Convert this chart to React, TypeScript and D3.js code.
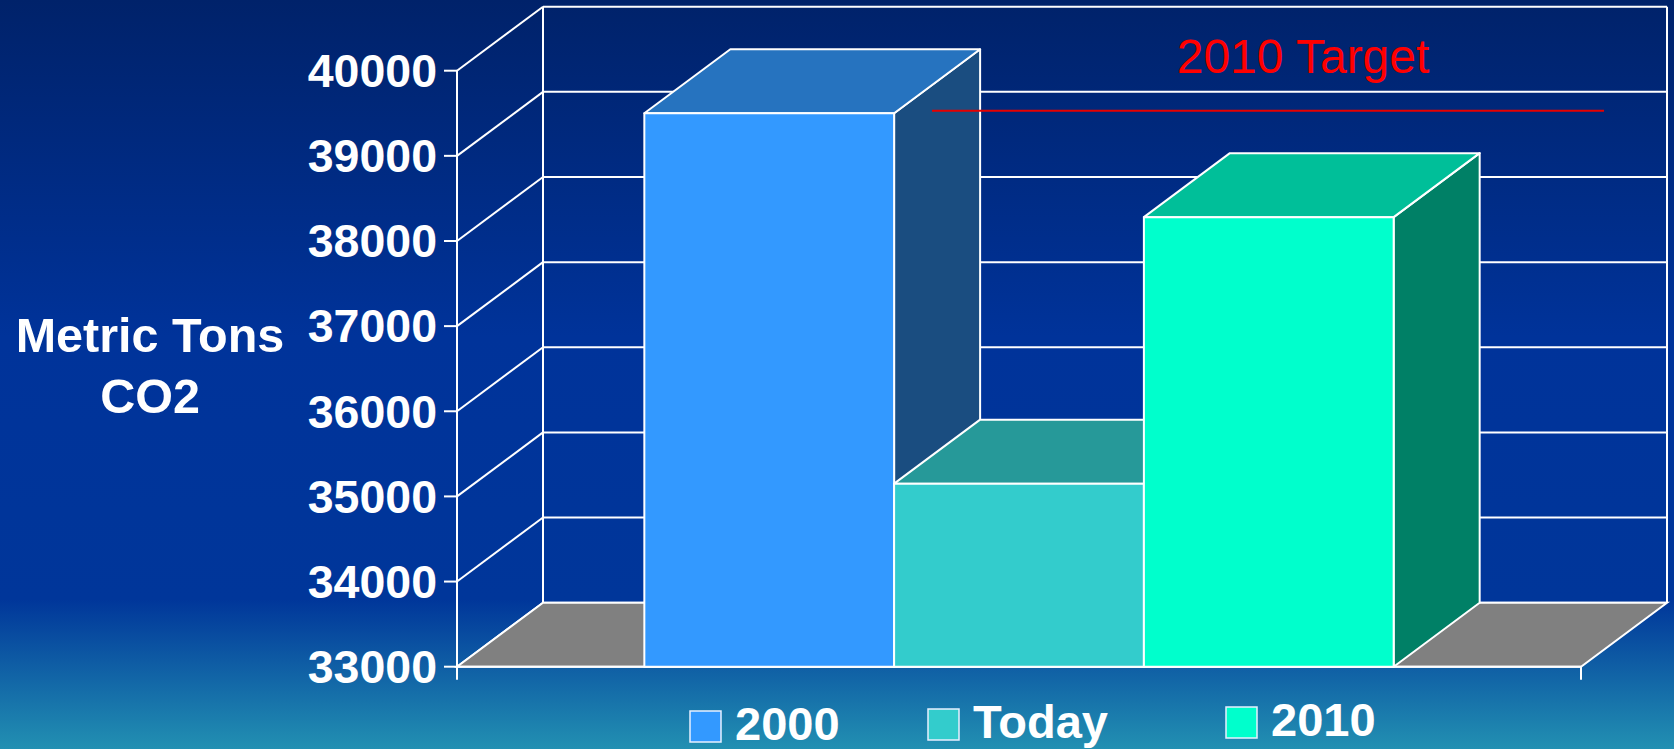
import React from "react";
import * as d3 from "d3";

// ---- data ----
const series = ["2000", "Today", "2010"];
const seriesValues = [39500, 35150, 38280];
const seriesColors = ["#3399FF", "#33CCCC", "#00FFCC"];
const yTicks = [33000, 34000, 35000, 36000, 37000, 38000, 39000, 40000];
const yTitle = ["Metric Tons", "CO2"];
const targetValue = 39530;
const targetLabel = "2010 Target";

const W = 1674;
const H = 749;
const FONT = "'Liberation Sans', Arial, Helvetica, sans-serif";

function shade(c: string, k: number) {
  const r = d3.rgb(c);
  return d3.rgb(r.r * k, r.g * k, r.b * k).formatHex();
}

export default function App() {
  const left = 457;
  const right = 1581;
  const bottom = 666.7;
  const top = 70.7;
  const dx = 86;
  const dy = -64;

  const y = d3.scaleLinear().domain([33000, 40000]).range([bottom, top]);
  const outer = d3.scaleBand<string>().domain(["group"]).range([left, right]).paddingInner(0.2).paddingOuter(0.2);
  const x = d3
    .scaleBand<string>()
    .domain(series)
    .range([outer("group") as number, (outer("group") as number) + outer.bandwidth()])
    .padding(0);
  const bw = x.bandwidth();
  const base = y(33000);

  const pts = (a: [number, number][]) => a.map((p) => p.join(",")).join(" ");

  const legendX = [690, 928, 1226];
  const legendLift = [0, 2, 4];

  // target line in front-plane coordinates
  const tY = y(targetValue);
  const tX0 = left + 0.4226 * (right - left);
  const tX1 = left + 1.0205 * (right - left);

  return (
    <svg width={W} height={H} style={{ position: "absolute", left: 0, top: 0 }} fontFamily={FONT}>
      <defs>
        <linearGradient id="bg" x1="0" y1="0" x2="0" y2="1">
          <stop offset="0" stopColor="#00226a" />
          <stop offset="0.45" stopColor="#00339a" />
          <stop offset="0.8" stopColor="#00369a" />
          <stop offset="1" stopColor="#2290b2" />
        </linearGradient>
      </defs>
      <rect x={0} y={0} width={W} height={H} fill="url(#bg)" />

      {/* back wall gridlines */}
      {yTicks.map((t) => (
        <line key={"g" + t} x1={left + dx} x2={right + dx} y1={y(t) + dy} y2={y(t) + dy} stroke="#fff" strokeWidth={2} />
      ))}
      {/* side wall diagonals */}
      {yTicks.map((t) => (
        <line key={"s" + t} x1={left} x2={left + dx} y1={y(t)} y2={y(t) + dy} stroke="#fff" strokeWidth={2} />
      ))}
      {/* back wall verticals */}
      <line x1={left + dx} x2={left + dx} y1={y(40000) + dy} y2={base + dy} stroke="#fff" strokeWidth={2} />
      <line x1={right + dx} x2={right + dx} y1={y(40000) + dy} y2={base + dy} stroke="#fff" strokeWidth={2} />

      {/* floor */}
      <polygon
        points={pts([
          [left, base],
          [right, base],
          [right + dx, base + dy],
          [left + dx, base + dy],
        ])}
        fill="#808080"
        stroke="#fff"
        strokeWidth={2}
      />

      {/* front axis */}
      <line x1={left} x2={left} y1={top} y2={base + 13} stroke="#fff" strokeWidth={2} />
      <line x1={left} x2={right} y1={base} y2={base} stroke="#fff" strokeWidth={2} />
      <line x1={right} x2={right} y1={base} y2={base + 13} stroke="#fff" strokeWidth={2} />
      {yTicks.map((t) => (
        <g key={"t" + t}>
          <line x1={left - 13} x2={left} y1={y(t)} y2={y(t)} stroke="#fff" strokeWidth={2} />
          <text x={left - 20} y={y(t)} dy="0.35em" textAnchor="end" fill="#fff" fontSize={46.5} fontWeight={700}>
            {t}
          </text>
        </g>
      ))}

      {/* bars */}
      {series.map((s, i) => {
        const x0 = x(s) as number;
        const x1 = x0 + bw;
        const yt = y(seriesValues[i]);
        const c = seriesColors[i];
        return (
          <g key={s} stroke="#fff" strokeWidth={2} strokeLinejoin="round">
            <polygon
              points={pts([
                [x1, yt],
                [x1 + dx, yt + dy],
                [x1 + dx, base + dy],
                [x1, base],
              ])}
              fill={shade(c, 0.5)}
            />
            <polygon
              points={pts([
                [x0, yt],
                [x1, yt],
                [x1 + dx, yt + dy],
                [x0 + dx, yt + dy],
              ])}
              fill={shade(c, 0.75)}
            />
            <rect x={x0} y={yt} width={bw} height={base - yt} fill={c} />
          </g>
        );
      })}

      {/* target annotation */}
      <line x1={tX0} x2={tX1} y1={tY} y2={tY} stroke="#e60000" strokeWidth={2} />
      <text x={1176.7} y={72.7} fill="#ff0000" fontSize={48}>
        {targetLabel}
      </text>

      {/* y title */}
      {yTitle.map((l, i) => (
        <text key={l} x={150} y={352.3 + i * 61} textAnchor="middle" fill="#fff" fontSize={48.5} fontWeight={700}>
          {l}
        </text>
      ))}

      {/* legend */}
      {series.map((s, i) => (
        <g key={"l" + s} transform={`translate(${legendX[i]},${-legendLift[i]})`}>
          <rect x={0} y={711} width={31} height={31} fill={seriesColors[i]} stroke="#e8f0ff" strokeWidth={1.5} />
          <text x={45} y={740} fill="#fff" fontSize={47} fontWeight={700}>
            {s}
          </text>
        </g>
      ))}
    </svg>
  );
}
